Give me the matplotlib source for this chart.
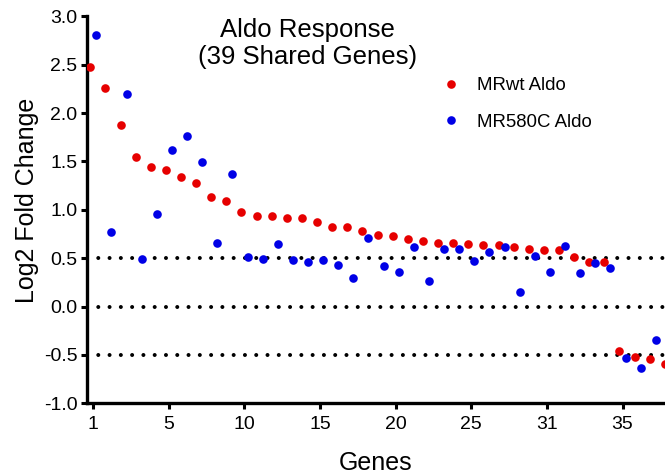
import numpy as np
import matplotlib
matplotlib.use('Agg')
import matplotlib.pyplot as plt

plt.rcParams['font.family'] = ['Liberation Sans', 'DejaVu Sans']
plt.rcParams['axes.unicode_minus'] = False

# Datos (39 genes compartidos)
genes = np.arange(1, 40)
mrwt_aldo = [2.48, 2.26, 1.88, 1.55, 1.44, 1.41, 1.335, 1.28, 1.135, 1.09,
             0.98, 0.94, 0.94, 0.92, 0.92, 0.87, 0.82, 0.82, 0.78, 0.74,
             0.73, 0.70, 0.68, 0.66, 0.66, 0.65, 0.64, 0.64, 0.62, 0.60,
             0.59, 0.58, 0.51, 0.46, 0.46, -0.46, -0.52, -0.54, -0.59]
mr580c_aldo = [2.81, 0.77, 2.20, 0.49, 0.96, 1.62, 1.76, 1.49, 0.66, 1.37,
               0.51, 0.49, 0.65, 0.48, 0.46, 0.48, 0.43, 0.30, 0.71, 0.42,
               0.36, 0.62, 0.26, 0.60, 0.60, 0.47, 0.56, 0.62, 0.15, 0.52,
               0.36, 0.63, 0.35, 0.45, 0.40, -0.53, -0.63, -0.34, -0.45]
tick_pos = [1, 6, 11, 16, 21, 26, 31, 36]
tick_labels = ['1', '5', '10', '15', '20', '25', '31', '35']
ref_lines = [0.5, 0.0, -0.5]

fig = plt.figure(figsize=(6.65, 4.74), dpi=100)
ax = fig.add_axes([0.1308, 0.149, 0.8692, 0.8166])

# Lineas de referencia punteadas
for y in ref_lines:
    ax.axhline(y, color='black', lw=2.9, linestyle=(0, (0.001, 2.8)),
               dash_capstyle='round', zorder=1)

ax.plot(genes - 0.2, mrwt_aldo, 'o', color='#e60000', ms=6.2, mew=0,
        label='MRwt Aldo', zorder=3)
ax.plot(genes + 0.2, mr580c_aldo, 'o', color='#0000e6', ms=6.2, mew=0,
        label='MR580C Aldo', zorder=3)

ax.set_xlim(0.583, 38.81)
ax.set_ylim(-1.0, 3.0)
ax.set_yticks(np.arange(-1.0, 3.01, 0.5))
ax.set_yticklabels(['%.1f' % v for v in np.arange(-1.0, 3.01, 0.5)])
ax.set_xticks(tick_pos)
ax.set_xticklabels(tick_labels)

for s in ['top', 'right']:
    ax.spines[s].set_visible(False)
for s in ['left', 'bottom']:
    ax.spines[s].set_linewidth(2.4)
ax.tick_params(direction='out', length=4, width=2.2, labelsize=14)
ax.tick_params(axis='y', pad=3)
ax.tick_params(axis='x', pad=5)

ax.set_xlabel('Genes', fontsize=18, labelpad=13)
ax.set_ylabel('Log2 Fold Change', fontsize=18)
ax.yaxis.set_label_coords(-0.083, 0.524)

fig.text(0.4624, 0.962, 'Aldo Response\n(39 Shared Genes)', ha='center',
         va='top', fontsize=18.5, linespacing=1.15)

ax.legend(loc='upper left', bbox_to_anchor=(0.577, 0.886), frameon=False,
          fontsize=13.4, handletextpad=0.63, labelspacing=1.05,
          handlelength=1.5, borderpad=0.4)

plt.savefig('out.png', dpi=100)
